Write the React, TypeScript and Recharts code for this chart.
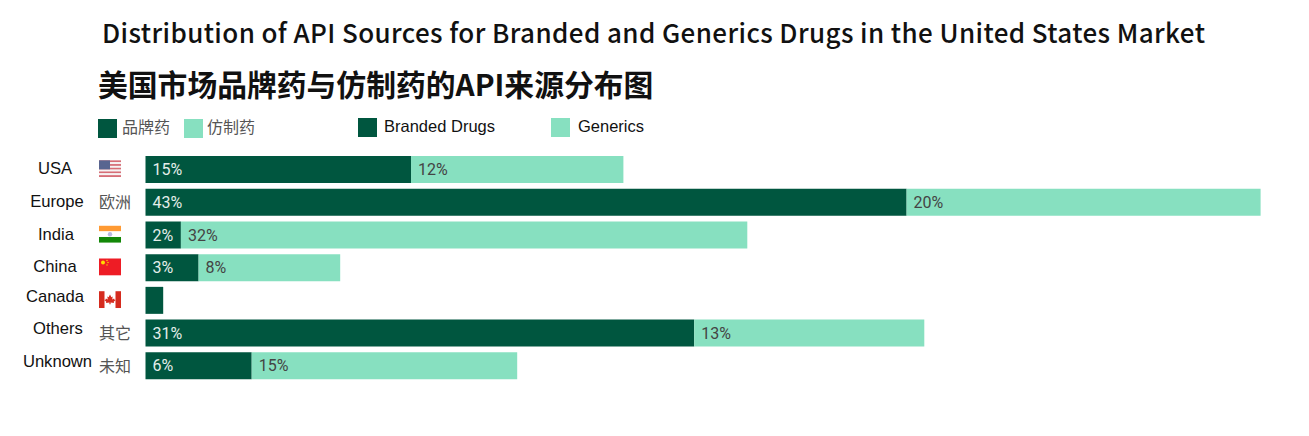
import { Bar, BarChart, LabelList, Legend, XAxis, YAxis } from 'recharts';

const titleEn = 'Distribution of API Sources for Branded and Generics Drugs in the United States Market';
const titleZh = '美国市场品牌药与仿制药的API来源分布图';

const countries = ['USA', 'Europe', 'India', 'China', 'Canada', 'Others', 'Unknown'];
const countriesZh = ['', '欧洲', '', '', '', '其它', '未知'];
const brandedValues = [15, 43, 2, 3, 1, 31, 6];
const genericValues = [12, 20, 32, 8, 0, 13, 15];

const DARK = '#00563f';
const LIGHT = '#87e0c0';
const CJK = '"Noto Sans CJK SC", sans-serif';

const data = countries.map((name, i) => ({
  name,
  zh: countriesZh[i],
  branded: brandedValues[i],
  generics: genericValues[i],
}));

const pct = (v: any) => (v >= 2 ? `${v}%` : '');

// the row names sit a little unevenly in the original
const labelCx: Record<string, number> = { USA: 55, Europe: 57, India: 56, China: 55, Canada: 55, Others: 58, Unknown: 57.5 };
const labelDy: Record<string, number> = { USA: -0.5, Europe: -0.5, India: -0.5, China: -1, Canada: -4, Others: -4, Unknown: -4 };

function Flag({ name }: { name: string }) {
  if (name === 'USA') {
    return (
      <g opacity={0.8}>
        {[0, 1, 2, 3, 4, 5, 6, 7, 8].map((i) => (
          <rect key={i} x={0} y={i * 1.85} width={22} height={1.85} fill={i % 2 ? '#f4f0f0' : '#cc4a55'} />
        ))}
        <rect x={0} y={0} width={11} height={9} fill="#2f3f75" />
      </g>
    );
  }
  if (name === 'India') {
    return (
      <g>
        <rect width={22} height={5.6} fill="#ff9a33" />
        <rect y={5.6} width={22} height={5.6} fill="#fff" />
        <rect y={11.2} width={22} height={5.6} fill="#138808" />
        <circle cx={11} cy={8.4} r={2.2} fill="#b9b9e0" />
      </g>
    );
  }
  if (name === 'China') {
    return (
      <g>
        <rect width={22} height={16.8} fill="#ee1c25" />
        <circle cx={4} cy={4} r={2} fill="#ffdd00" />
        <circle cx={8} cy={2} r={0.7} fill="#ffdd00" />
        <circle cx={9} cy={4} r={0.7} fill="#ffdd00" />
        <circle cx={8} cy={6.4} r={0.7} fill="#ffdd00" />
      </g>
    );
  }
  return (
    <g>
      <rect width={22} height={16.8} fill="#fff" />
      <rect width={5.5} height={16.8} fill="#d52b1e" />
      <rect x={16.5} width={5.5} height={16.8} fill="#d52b1e" />
      <path d="M11 3.4l1.4 2.6 1.3-.6-.5 2.8 1.9-.9.4 1.2 1.2.3-2 1.8.3 1.1-3.4-.4V13h-1.2v-1.7l-3.4.4.3-1.1-2-1.8 1.2-.3.4-1.2 1.9.9-.5-2.8 1.3.6z" fill="#d52b1e" />
    </g>
  );
}

function RowTick({ y, payload, index }: any) {
  const name = payload.value;
  const zh = countriesZh[index];
  return (
    <g>
      <text x={labelCx[name]} y={y + labelDy[name]} textAnchor="middle" dominantBaseline="central" fontFamily="Liberation Sans" fontSize={16.6} fill="#111">
        {name}
      </text>
      {zh ? (
        <text x={115} y={y - 1} textAnchor="middle" dominantBaseline="central" fontFamily={CJK} fontSize={16} fill="#555">
          {zh}
        </text>
      ) : (
        <g transform={`translate(99 ${y - 9})`}>
          <Flag name={name} />
        </g>
      )}
    </g>
  );
}

function LegendRow() {
  const swatch = (left: number, top: number, color: string) => (
    <div style={{ position: 'absolute', left, top, width: 19, height: 19, background: color }} />
  );
  const label = (left: number, text: string, font: string, color: string, size: number) => (
    <div style={{ position: 'absolute', left, top: 115, fontFamily: font, fontSize: size, lineHeight: '23px', color, whiteSpace: 'nowrap' }}>{text}</div>
  );
  return (
    <div>
      {swatch(98, 119, DARK)}
      {label(122, '品牌药', CJK, '#555', 16)}
      {swatch(184, 119, LIGHT)}
      {label(207, '仿制药', CJK, '#555', 16)}
      {swatch(358, 118, DARK)}
      {label(384, 'Branded Drugs', 'Liberation Sans', '#111', 16.5)}
      {swatch(551, 118, LIGHT)}
      {label(578, 'Generics', 'Liberation Sans', '#111', 16.5)}
    </div>
  );
}

export default function App() {
  return (
    <div style={{ position: 'absolute', left: 0, top: 0, width: 1309, height: 436, background: '#fff', overflow: 'hidden' }}>
      <div style={{ position: 'absolute', left: 102, top: 14, fontFamily: CJK, fontSize: 26, letterSpacing: 0.4, lineHeight: '36px', fontWeight: 500, color: '#111', whiteSpace: 'nowrap' }}>
        {titleEn}
      </div>
      <div style={{ position: 'absolute', left: 98, top: 63, fontFamily: CJK, fontSize: 29.8, lineHeight: '40px', fontWeight: 700, color: '#111', whiteSpace: 'nowrap' }}>
        {titleZh}
      </div>
      <BarChart
        width={1309}
        height={436}
        data={data}
        layout="vertical"
        margin={{ top: 153, right: 48.4, bottom: 54, left: 0 }}
        barSize={27}
      >
        <XAxis type="number" hide domain={[0, 63]} />
        <YAxis type="category" dataKey="name" width={145.5} axisLine={false} tickLine={false} interval={0} tick={<RowTick />} />
        <Legend content={<LegendRow />} wrapperStyle={{ position: 'absolute', left: 0, top: 0, width: 0, height: 0 }} />
        <Bar dataKey="branded" name="Branded Drugs" stackId="a" fill={DARK} isAnimationActive={false}>
          <LabelList dataKey="branded" position="insideLeft" offset={7} formatter={pct} fill="#e4eeea" fontFamily="Roboto" fontSize={16} />
        </Bar>
        <Bar dataKey="generics" name="Generics" stackId="a" fill={LIGHT} isAnimationActive={false}>
          <LabelList dataKey="generics" position="insideLeft" offset={7} formatter={pct} fill="#444" fontFamily="Roboto" fontSize={16} />
        </Bar>
      </BarChart>
    </div>
  );
}
